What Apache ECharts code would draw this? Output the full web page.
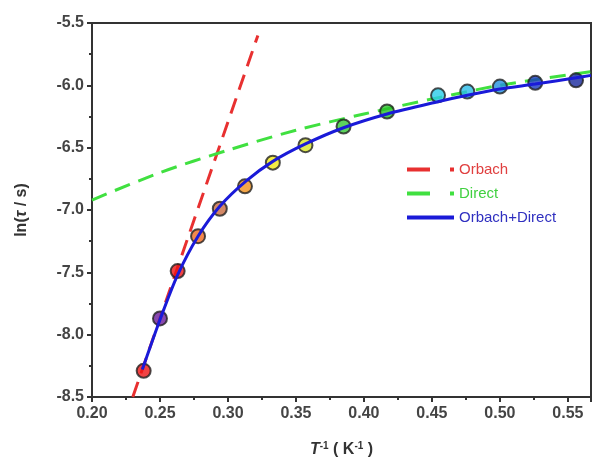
<!DOCTYPE html>
<html>
<head>
    <meta charset="utf-8">
    <title>ln(tau) vs 1/T</title>
    <script src="https://cdn.jsdelivr.net/npm/echarts@6/dist/echarts.min.js"></script>
    <style>
        body { margin: 0; background: #fff; }
    </style>
</head>
<body>
<div id="main" style="width: 594px;height:467px;"></div>

<script type="text/javascript">

// measured points
var invT = [0.238, 0.250, 0.263, 0.278, 0.294, 0.3125, 0.333, 0.357, 0.385, 0.417, 0.4545, 0.476, 0.500, 0.526, 0.556];
var lnTau = [-8.29, -7.87, -7.49, -7.21, -6.99, -6.81, -6.62, -6.48, -6.33, -6.21, -6.08, -6.05, -6.01, -5.98, -5.96];
var pointColors = ['#ee1414', '#6a1a9a', '#ee1414', '#f06a20', '#c86a40', '#f0901c', '#f0e818', '#d8e428',
                   '#34c834', '#28c028', '#28cce8', '#28bce8', '#2090e0', '#1838c0', '#18289c'];

// fit lines
var orbachX = [0.230, 0.322];
var orbachY = [-8.50, -5.60];
var directX = [0.200, 0.250, 0.300, 0.350, 0.400, 0.450, 0.500, 0.567];
var directY = [-6.92, -6.70, -6.52, -6.36, -6.23, -6.11, -6.00, -5.89];
var fitX = [0.237, 0.250, 0.263, 0.278, 0.294, 0.313, 0.333, 0.357, 0.385, 0.417, 0.455, 0.476, 0.500, 0.526, 0.556, 0.567];
var fitY = [-8.28, -7.88, -7.52, -7.21, -6.97, -6.77, -6.61, -6.47, -6.34, -6.23, -6.13, -6.08, -6.03, -5.99, -5.94, -5.92];

function pairs(xs, ys) {
    return xs.map(function (x, i) { return [x, ys[i]]; });
}

var chart = echarts.init(document.getElementById('main'));

var noSymbol = { color: 'transparent', borderWidth: 0, opacity: 0 };

chart.setOption({
    backgroundColor: '#fff',
    animation: false,
    textStyle: { fontFamily: 'Liberation Sans, Arial, sans-serif' },
    grid: {
        left: 92, right: 3, top: 23, bottom: 70,
        show: true,
        borderColor: '#333',
        borderWidth: 2
    },
    legend: {
        left: 400,
        top: 157,
        orient: 'vertical',
        itemWidth: 47,
        itemHeight: 14,
        itemGap: 9,
        textStyle: { fontSize: 15 },
        data: [
            { name: 'Orbach', itemStyle: noSymbol, lineStyle: { type: [23, 20], width: 4 }, textStyle: { color: '#e04040' } },
            { name: 'Direct', itemStyle: noSymbol, lineStyle: { type: [23, 20], width: 4 }, textStyle: { color: '#40d040' } },
            { name: 'Orbach+Direct', itemStyle: noSymbol, lineStyle: { width: 4 }, textStyle: { color: '#3030c0' } }
        ]
    },
    xAxis: {
        type: 'value',
        min: 0.2,
        max: 0.567,
        interval: 0.05,
        name: '{i|T}{s|-1} ( K{s|-1} )',
        nameLocation: 'middle',
        nameGap: 44,
        nameTextStyle: {
            fontSize: 16, fontWeight: 'bold', color: '#333',
            rich: {
                i: { fontSize: 16, fontWeight: 'bold', fontStyle: 'italic', color: '#333' },
                s: { fontSize: 10, fontWeight: 'bold', color: '#333', verticalAlign: 'top', padding: [0, 0, 8, 0] }
            }
        },
        axisLine: { onZero: false, lineStyle: { color: '#333', width: 2 } },
        axisTick: { show: true, length: 5, lineStyle: { color: '#333', width: 2 } },
        minorTick: { show: true, splitNumber: 2, length: 3, lineStyle: { color: '#333', width: 2 } },
        splitLine: { show: false },
        axisLabel: {
            fontSize: 16, fontWeight: 'bold', color: '#444', margin: 9,
            showMaxLabel: false,
            formatter: function (v) { return v.toFixed(2); }
        }
    },
    yAxis: {
        type: 'value',
        min: -8.5,
        max: -5.5,
        interval: 0.5,
        name: 'ln({i|τ} / s)',
        nameLocation: 'middle',
        nameRotate: 90,
        nameGap: 62,
        nameTextStyle: {
            fontSize: 16, fontWeight: 'bold', color: '#333',
            rich: {
                i: { fontSize: 16, fontWeight: 'bold', fontStyle: 'italic', color: '#333' }
            }
        },
        axisLine: { onZero: false, lineStyle: { color: '#333', width: 2 } },
        axisTick: { show: true, length: 5, lineStyle: { color: '#333', width: 2 } },
        minorTick: { show: true, splitNumber: 2, length: 3, lineStyle: { color: '#333', width: 2 } },
        splitLine: { show: false },
        axisLabel: {
            fontSize: 16, fontWeight: 'bold', color: '#444', margin: 8,
            formatter: function (v) { return v.toFixed(1); }
        }
    },
    series: [
        {
            name: 'Orbach',
            type: 'line',
            data: pairs(orbachX, orbachY),
            showSymbol: false,
            symbol: 'none',
            color: '#e83030',
            lineStyle: { color: '#e83030', width: 3, type: [16, 9] },
            z: 2
        },
        {
            name: 'Direct',
            type: 'line',
            data: pairs(directX, directY),
            smooth: 0.3,
            showSymbol: false,
            symbol: 'none',
            color: '#40e040',
            lineStyle: { color: '#40e040', width: 3, type: [16, 9] },
            z: 2
        },
        {
            name: 'data',
            type: 'scatter',
            symbolSize: 14,
            data: invT.map(function (x, i) {
                return {
                    value: [x, lnTau[i]],
                    itemStyle: { color: pointColors[i], borderColor: '#222', borderWidth: 2 }
                };
            }),
            z: 3
        },
        {
            name: 'Orbach+Direct',
            type: 'line',
            data: pairs(fitX, fitY),
            smooth: 0.3,
            showSymbol: false,
            symbol: 'none',
            color: '#1a1ad8',
            lineStyle: { color: '#1a1ad8', width: 3 },
            z: 4
        }
    ]
});
</script>
</body>
</html>
